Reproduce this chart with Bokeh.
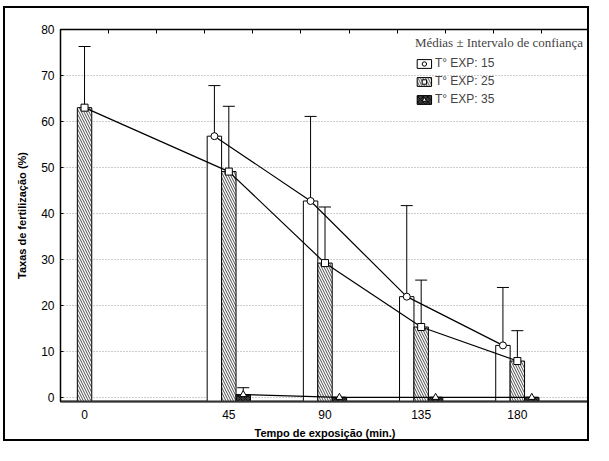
import numpy as np
from bokeh.plotting import figure
from bokeh.models import (ColumnDataSource, Whisker, FixedTicker, LinearAxis,
                          Legend, LegendItem, Range1d)
from bokeh.embed import file_html
from bokeh.resources import INLINE

# ---- data ----
times = ["0", "45", "90", "135", "180"]
t15_mean = [np.nan, 56.8, 42.7, 21.9, 11.3]
t15_ci = [np.nan, 11.0, 18.4, 19.8, 12.6]
t25_mean = [63.0, 49.1, 29.2, 15.3, 7.9]
t25_ci = [13.3, 14.2, 12.2, 10.2, 6.6]
t35_mean = [np.nan, 0.6, 0.0, 0.0, 0.0]
t35_ci = [np.nan, 1.5, 0.0, 0.0, 0.0]
series_names = ["T° EXP: 15", "T° EXP: 25", "T° EXP: 35"]

# ---- layout of the categorical axis (slot centres) ----
slots = [0.5, 3.5, 5.5, 7.5, 9.5]
bar_w = 0.3
offsets = [-bar_w, 0.0, bar_w]
y_lo, y_hi = -0.9, 80

p = figure(width=586, height=435, output_backend="svg", toolbar_location=None,
           x_range=Range1d(0, 11), y_range=Range1d(y_lo, y_hi),
           min_border_left=55, min_border_top=21, min_border_right=2,
           min_border_bottom=42)
p.styles = {"border": "2px solid black", "margin-top": "6px", "margin-left": "3px"}

p.xgrid.visible = False
p.ygrid.grid_line_color = "#9a9a9a"
p.ygrid.grid_line_dash = "1 2"
p.ygrid.ticker = FixedTicker(ticks=list(range(0, 80, 10)))
p.outline_line_color = "black"
p.outline_line_width = 1.5

styles = [
    dict(fill_color="white", hatch_pattern=None, marker="circle"),
    dict(fill_color="white", hatch_pattern="\\", marker="square"),
    dict(fill_color="#3a3a3a", hatch_pattern="x", marker="triangle"),
]
means = [t15_mean, t25_mean, t35_mean]
cis = [t15_ci, t25_ci, t35_ci]

legend_items = []
bar_renderers = []
for k in range(3):
    m = np.array(means[k], dtype=float)
    c = np.array(cis[k], dtype=float)
    xs = np.array(slots) + offsets[k]
    valid = ~np.isnan(m)
    src = ColumnDataSource(dict(x=xs[valid], top=m[valid],
                                lower=(m - c)[valid], upper=(m + c)[valid]))
    st = styles[k]
    kw = {}
    if st["hatch_pattern"]:
        kw = dict(hatch_pattern=st["hatch_pattern"], hatch_color="black",
                  hatch_scale=5, hatch_weight=0.7)
    br = p.vbar(x="x", top="top", bottom=y_lo, width=bar_w, source=src,
                fill_color=st["fill_color"], line_color="black", line_width=1, **kw)
    bar_renderers.append(br)
    w = Whisker(source=src, base="x", lower="lower", upper="upper",
                line_color="black", line_width=1)
    w.upper_head.size = 12
    w.lower_head.size = 12
    w.upper_head.line_color = "black"
    w.lower_head.line_color = "black"
    p.add_layout(w)

for k in range(3):
    m = np.array(means[k], dtype=float)
    xs = np.array(slots) + offsets[k]
    valid = ~np.isnan(m)
    ls = ColumnDataSource(dict(x=xs[valid], y=m[valid]))
    p.line("x", "y", source=ls, line_color="black", line_width=1.2)

for k in range(3):
    m = np.array(means[k], dtype=float)
    xs = np.array(slots) + offsets[k]
    valid = ~np.isnan(m)
    ls = ColumnDataSource(dict(x=xs[valid], y=m[valid]))
    mr = p.scatter("x", "y", source=ls, marker=styles[k]["marker"], size=7,
                   fill_color="white", line_color="black", line_width=1)
    legend_items.append(LegendItem(label=series_names[k],
                                   renderers=[bar_renderers[k], mr]))

legend = Legend(items=legend_items, location="top_right",
                title="Médias ± Intervalo de confiança",
                title_text_font="Liberation Serif", title_text_font_size="13px",
                title_text_font_style="normal",
                label_text_font="Liberation Sans", label_text_font_size="12px",
                glyph_width=18, glyph_height=11, label_height=12, spacing=4,
                padding=2, margin=6, border_line_color=None,
                background_fill_alpha=0.0, label_standoff=2)
p.add_layout(legend)

# axes
p.xaxis.ticker = FixedTicker(ticks=slots)
p.xaxis.major_label_overrides = {s: t for s, t in zip(slots, times)}
p.xaxis.major_tick_line_color = None
p.xaxis.minor_tick_line_color = None
p.xaxis.axis_line_color = "#333333"
p.xaxis.axis_line_width = 2
p.xaxis.axis_label = "Tempo de exposição (min.)"
p.yaxis.axis_label = "Taxas de fertilização (%)"
p.yaxis.ticker = FixedTicker(ticks=list(range(0, 90, 10)))
p.yaxis.major_tick_in = 3
p.yaxis.major_tick_out = 0
p.yaxis.minor_tick_line_color = None
p.yaxis.axis_line_color = "black"
for ax in (p.xaxis, p.yaxis):
    ax.major_label_text_font = "Liberation Sans"
    ax.major_label_text_font_size = "12px"
    ax.major_label_text_color = "black"
    ax.axis_label_text_font = "Liberation Sans"
    ax.axis_label_text_font_size = "11px"
    ax.axis_label_text_font_style = "bold"
    ax.axis_label_text_color = "black"
p.xaxis.major_label_standoff = 2
p.xaxis.axis_label_standoff = 5
p.yaxis.major_label_standoff = 6
p.yaxis.axis_label_standoff = 10

top_ticks = list(range(1, 11))
top = LinearAxis(ticker=FixedTicker(ticks=top_ticks),
                 major_label_overrides={t: "" for t in top_ticks},
                 major_tick_in=4, major_tick_out=0, minor_tick_line_color=None,
                 major_tick_line_color="black", axis_line_color="black",
                 axis_line_width=1)
p.add_layout(top, "above")

open("out.html", "w").write(file_html(p, INLINE))
